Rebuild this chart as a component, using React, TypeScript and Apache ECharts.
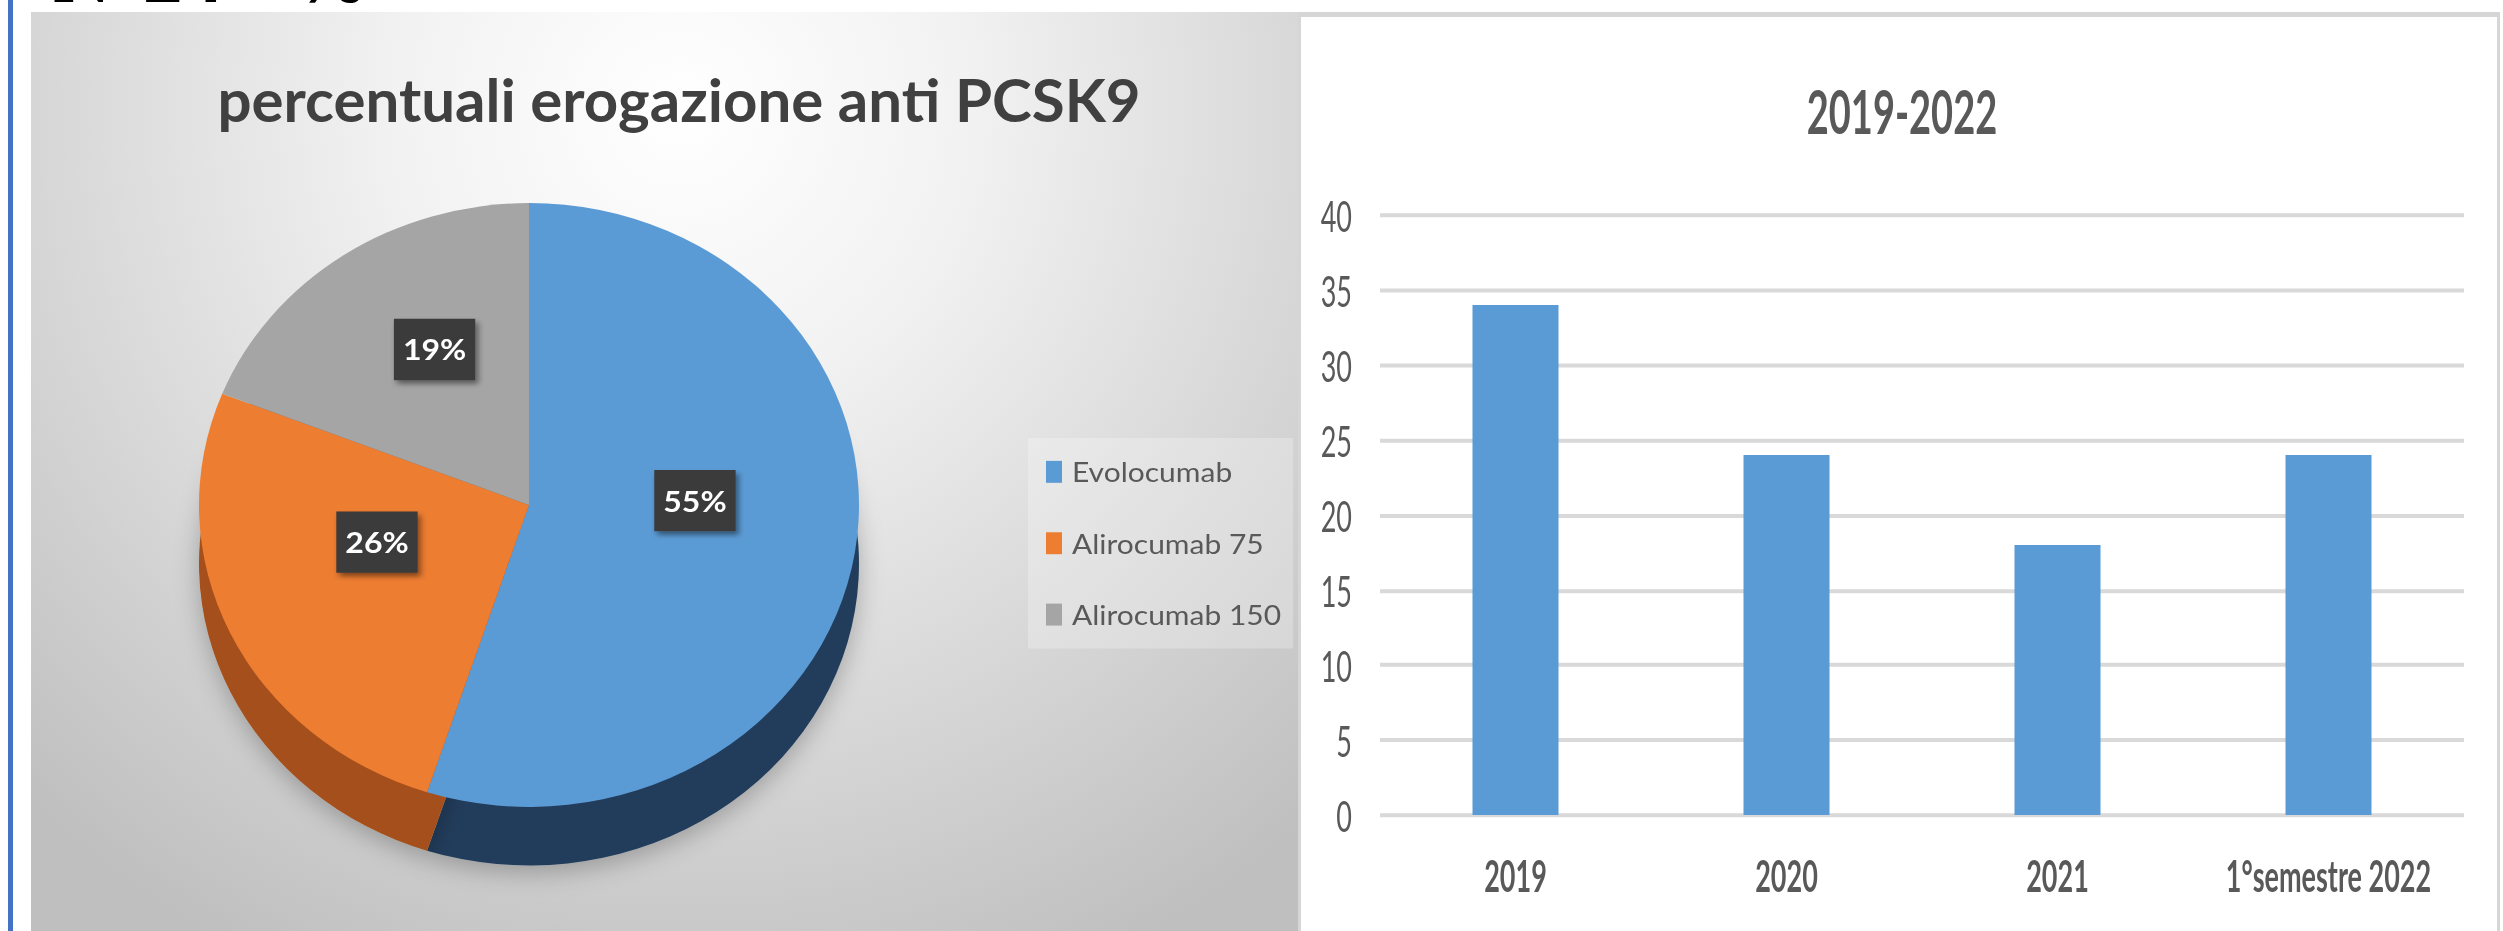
import React, { useEffect, useRef } from "react";
import * as echarts from "echarts";

// ---- data ----
const pieTitle = "percentuali erogazione anti PCSK9";
const pieNames = ["Evolocumab", "Alirocumab 75", "Alirocumab 150"];
const pieValues = [55, 26, 19];
const pieColors = ["#5B9BD5", "#ED7D31", "#A5A5A5"];
const pieSideColors = ["#233E5B", "#A4501A", "#6B6B6B"];

const barTitle = "2019-2022";
const barCategories = ["2019", "2020", "2021", "1°semestre 2022"];
const barValues = [34, 24, 18, 24];
const yMin = 0;
const yMax = 40;
const yStep = 5;

const headingPieces = ["N°24", "%"];

const FONT = 'Lato, "Noto Sans", sans-serif';
const BAR_STRETCH = 1.6;
const PIE_SQUASH = 0.915;

export default function App() {
  const baseRef = useRef<HTMLDivElement>(null);
  const pieRef = useRef<HTMLDivElement>(null);
  const barRef = useRef<HTMLDivElement>(null);

  useEffect(() => {
    const base = echarts.init(baseRef.current!, undefined, { renderer: "svg" });
    const pie = echarts.init(pieRef.current!, undefined, { renderer: "svg" });
    const bar = echarts.init(barRef.current!, undefined, { renderer: "svg" });

    const panelGradient = new echarts.graphic.RadialGradient(
      680,
      110,
      950,
      [
        { offset: 0, color: "#ffffff" },
        { offset: 0.3, color: "#f2f2f2" },
        { offset: 1, color: "#bfbfbf" },
      ],
      true
    );

    const k = PIE_SQUASH;

    base.setOption({
      animation: false,
      backgroundColor: "#ffffff",
      title: {
        text: pieTitle,
        left: 674,
        top: 64,
        textAlign: "center",
        textStyle: {
          fontFamily: FONT,
          fontSize: 60,
          fontWeight: "bold",
          color: "#404040",
        },
      },
      graphic: {
        elements: [
          {
            type: "rect",
            z: 0,
            shape: { x: 8, y: 0, width: 5, height: 931 },
            style: { fill: "#4472C4" },
          },
          {
            type: "rect",
            z: 0,
            shape: { x: 31, y: 12, width: 1267, height: 919 },
            style: { fill: panelGradient },
          },
          {
            type: "rect",
            z: 0,
            shape: { x: 1298, y: 12, width: 1202, height: 919 },
            style: { fill: "#d6d6d6" },
          },
          {
            type: "rect",
            z: 0,
            shape: { x: 1301, y: 17, width: 1196, height: 914 },
            style: { fill: "#ffffff" },
          },
          {
            type: "text",
            z: 0,
            x: 53,
            y: 15,
            style: {
              text: headingPieces[0],
              fontFamily: '"Liberation Serif", serif',
              fontWeight: "bold",
              fontSize: 80,
              fill: "#000000",
              verticalAlign: "bottom",
            },
          },
          {
            type: "text",
            z: 0,
            x: 290,
            y: 15,
            style: {
              text: headingPieces[1],
              fontFamily: '"Liberation Serif", serif',
              fontWeight: "bold",
              fontSize: 80,
              fill: "#000000",
              verticalAlign: "bottom",
            },
          },
        ],
      },
    });

    pie.setOption({
      animation: false,
      legend: {
        orient: "vertical",
        left: 1028,
        top: 438 / k,
        data: pieNames,
        icon: "rect",
        itemWidth: 16,
        itemHeight: 24,
        itemGap: 48,
        padding: [22, 12, 22, 18],
        backgroundColor: "rgba(255,255,255,0.25)",
        textStyle: {
          fontFamily: FONT,
          fontSize: 30,
          color: "#595959",
          padding: [0, 0, 0, 5],
        },
      },
      series: [
        {
          type: "pie",
          name: "top",
          z: 4,
          center: [529, 505 / k],
          radius: 330,
          startAngle: 90,
          clockwise: true,
          data: pieNames.map((n, i) => ({
            name: n,
            value: pieValues[i],
            itemStyle: { color: pieColors[i] },
          })),
          label: {
            show: true,
            position: "inside",
            formatter: "{c}%",
            color: "#ffffff",
            fontFamily: FONT,
            fontWeight: "bold",
            fontSize: 32,
            backgroundColor: "#3a3a3a",
            padding: [18, 9, 17, 9],
            shadowBlur: 6,
            shadowColor: "rgba(0,0,0,0.45)",
            shadowOffsetX: 3,
            shadowOffsetY: 4,
          },
          labelLine: { show: false },
          labelLayout: { dy: -31 },
          emphasis: { disabled: true },
        },
        {
          type: "pie",
          name: "side",
          z: 3,
          silent: true,
          center: [529, 505 / k + 64],
          radius: 330,
          startAngle: 90,
          clockwise: true,
          data: pieNames.map((n, i) => ({
            name: n,
            value: pieValues[i],
            itemStyle: { color: pieSideColors[i] },
          })),
          itemStyle: {
            shadowBlur: 25,
            shadowColor: "rgba(0,0,0,0.25)",
            shadowOffsetY: 8,
          },
          label: { show: false },
          labelLine: { show: false },
          emphasis: { disabled: true },
        },
      ],
    });

    bar.setOption({
      animation: false,
      title: {
        text: barTitle,
        left: "center",
        top: 45,
        textStyle: {
          fontFamily: FONT,
          fontSize: 38,
          fontWeight: "bold",
          color: "#595959",
        },
      },
      grid: { left: 79, right: 39, top: 134.4, bottom: 72.6 },
      xAxis: {
        type: "category",
        data: barCategories,
        axisLine: { show: false },
        axisTick: { show: false },
        axisLabel: {
          interval: 0,
          fontFamily: FONT,
          fontSize: 27,
          fontWeight: "bold",
          color: "#595959",
          margin: 24,
        },
      },
      yAxis: {
        type: "value",
        min: yMin,
        max: yMax,
        interval: yStep,
        axisLine: { show: false },
        axisTick: { show: false },
        axisLabel: {
          fontFamily: FONT,
          fontSize: 27,
          color: "#595959",
          margin: 28,
        },
        splitLine: { lineStyle: { color: "#d9d9d9", width: 2.5 } },
      },
      series: [
        {
          type: "bar",
          data: barValues,
          barWidth: 86,
          itemStyle: { color: "#5B9BD5" },
        },
      ],
    });

    return () => {
      base.dispose();
      pie.dispose();
      bar.dispose();
    };
  }, []);

  return (
    <div
      style={{
        position: "absolute",
        left: 0,
        top: 0,
        width: 2503,
        height: 931,
        overflow: "hidden",
      }}
    >
      <div
        ref={baseRef}
        style={{ position: "absolute", left: 0, top: 0, width: 2503, height: 931 }}
      />
      <div
        ref={pieRef}
        style={{
          position: "absolute",
          left: 0,
          top: 0,
          width: 1298,
          height: 931 / PIE_SQUASH,
          transform: `scaleY(${PIE_SQUASH})`,
          transformOrigin: "0 0",
        }}
      />
      <div
        ref={barRef}
        style={{
          position: "absolute",
          left: 1301,
          top: 0,
          width: 1202,
          height: 931 / BAR_STRETCH,
          transform: `scaleY(${BAR_STRETCH})`,
          transformOrigin: "0 0",
        }}
      />
    </div>
  );
}
